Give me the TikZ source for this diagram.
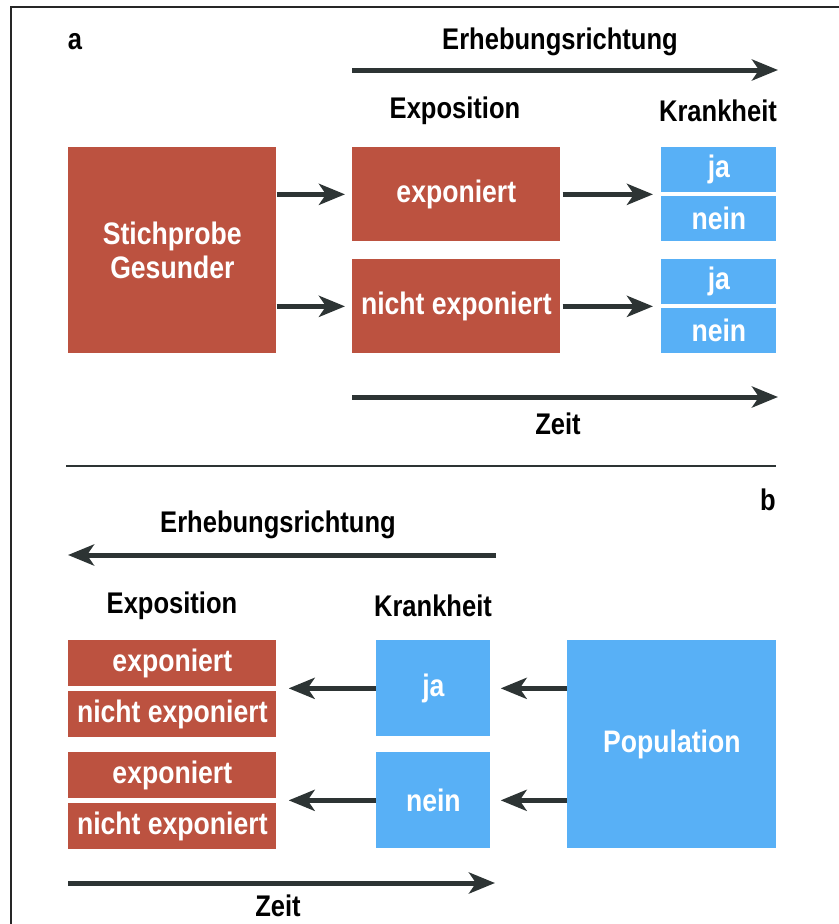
\documentclass[tikz,border=0pt]{standalone}
\usepackage{fontspec}
\setmainfont{Liberation Sans}[FakeStretch=0.855]
\usepackage{tikz}
\usetikzlibrary{arrows.meta}
\usetikzlibrary{positioning}
\definecolor{rotbox}{RGB}{188,82,64}
\definecolor{blaubox}{RGB}{88,176,246}
\definecolor{dunkel}{RGB}{45,52,52}
\tikzset{
  schema/.style={x=0.02cm,y=-0.02cm,font={\fontsize{17}{19}\selectfont\bfseries}},
  box/.style={anchor=north west,inner sep=0pt,text=white,align=center,
    font={\fontsize{17.7}{19.5}\selectfont\bfseries}},
  rot/.style={box,fill=rotbox,minimum width=4.16cm},
  blau/.style={box,fill=blaubox},
  flow/.style={draw=dunkel,line width=0.1cm,-{Stealth[length=0.52cm,width=0.42cm,inset=0.14cm]}},
  kopf/.style={text=black},
}
\begin{document}
\begin{tikzpicture}[schema]
    \useasboundingbox (0,0) rectangle (839,924);
    \draw[line width=0.8pt,black!85] (11,924) -- (11,7) -- (839,7);

    % a: Kohortenstudie
    \node[kopf] (lbla) at (75,42) {a};
    \node[kopf] (richtA) at (560,42) {Erhebungsrichtung};
    \coordinate (rA0) at (352,70);
    \coordinate (rA1) at (778,70);
    \draw[flow] (rA0) -- (rA1);
    \node[kopf] (expA) at (455,111) {Exposition};
    \node[kopf] (krA) at (718,111) {Krankheit};

    \node[rot,minimum height=4.12cm] (stich) at (68,147) {Stichprobe\\Gesunder};
    \node[rot,minimum height=1.88cm] (expo) at (352,147) {exponiert};
    \node[rot,minimum height=1.88cm] (nexpo) at (352,259) {nicht exponiert};
    \foreach \n/\y in {1/147,2/259}{
        \node[blau,minimum width=2.3cm,minimum height=0.9cm] (ja\n) at (661,\y) {ja};
        \node[blau,minimum width=2.3cm,minimum height=0.9cm] (nein\n) at (661,{\y+49}) {nein};
    }
    \draw[flow,shorten >=0.14cm] (stich.east |- expo.west) -- (expo.west);
    \draw[flow,shorten >=0.14cm] (stich.east |- nexpo.west) -- (nexpo.west);
    \draw[flow,shorten <=0.04cm,shorten >=0.16cm] (expo.east) -- (expo.east -| ja1.west);
    \draw[flow,shorten <=0.04cm,shorten >=0.16cm] (nexpo.east) -- (nexpo.east -| ja2.west);

    \coordinate (zA0) at (352,397);
    \coordinate (zA1) at (778,397);
    \draw[flow] (zA0) -- (zA1);
    \node[kopf] (zeitA) at (558,424) {Zeit};

    \draw[draw=dunkel,line width=0.04cm] (66,466) -- (776,466);

    % b: Fall-Kontroll-Studie
    \node[kopf] (lblb) at (768,500) {b};
    \node[kopf] (richtB) at (278,525) {Erhebungsrichtung};
    \coordinate (rB0) at (496,555);
    \coordinate (rB1) at (68,555);
    \draw[flow] (rB0) -- (rB1);
    \node[kopf] (expB) at (172,606) {Exposition};
    \node[kopf] (krB) at (433,606) {Krankheit};

    \foreach \n/\y in {1/640,2/752}{
        \node[rot,minimum height=0.91cm] (e\n) at (68,\y) {exponiert};
        \node[rot,minimum height=0.91cm] (ne\n) at (68,{\y+51}) {nicht exponiert};
    }
    \node[blau,minimum width=2.28cm,minimum height=1.92cm] (bja) at (376,640) {ja};
    \node[blau,minimum width=2.28cm,minimum height=1.92cm] (bnein) at (376,752) {nein};
    \node[blau,minimum width=4.18cm,minimum height=4.16cm] (pop) at (567,640) {Population};

    \draw[flow,shorten >=0.24cm] (bja.west) -- (bja.west -| e1.east);
    \draw[flow,shorten >=0.24cm] (bnein.west) -- (bnein.west -| e2.east);
    \draw[flow,shorten >=0.2cm] (pop.west |- bja.east) -- (bja.east);
    \draw[flow,shorten >=0.2cm] (pop.west |- bnein.east) -- (bnein.east);

    \coordinate (zB0) at (68,883);
    \coordinate (zB1) at (495,883);
    \draw[flow] (zB0) -- (zB1);
    \node[kopf] (zeitB) at (278,906) {Zeit};
\end{tikzpicture}
\end{document}
